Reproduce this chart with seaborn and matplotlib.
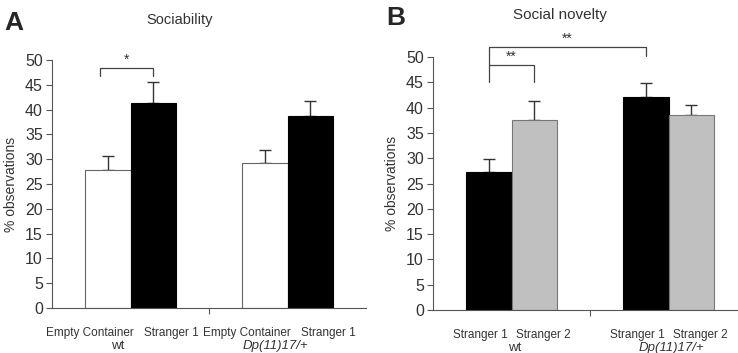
import seaborn as sns
import matplotlib.pyplot as plt
import matplotlib.transforms as mtransforms
import pandas as pd

# values (mean, upper error = SEM)
genotypes = ['wt', 'Dp(11)17/+']

soc_chambers = ['Empty Container', 'Stranger 1']
soc_mean = {'Empty Container': [27.8, 29.3], 'Stranger 1': [41.4, 38.8]}
soc_err = {'Empty Container': [2.9, 2.5], 'Stranger 1': [4.1, 3.0]}

nov_chambers = ['Stranger 1', 'Stranger 2']
nov_mean = {'Stranger 1': [27.3, 42.2], 'Stranger 2': [37.6, 38.5]}
nov_err = {'Stranger 1': [2.5, 2.6], 'Stranger 2': [3.8, 2.0]}

sns.set_style('white')
plt.rcParams['font.family'] = ['Liberation Sans', 'DejaVu Sans']
TXT = '#333333'


def make_df(chambers, means):
    rows = []
    for ch in chambers:
        for g, v in zip(genotypes, means[ch]):
            rows.append({'genotype': g, 'chamber': ch, 'value': v})
    return pd.DataFrame(rows)


def panel(ax, chambers, means, errs, colors, edges, label_shift, group_shift):
    df = make_df(chambers, means)
    sns.barplot(data=df, x='genotype', y='value', hue='chamber', order=genotypes,
                hue_order=chambers, palette=colors, width=0.58, errorbar=None,
                legend=False, ax=ax, linewidth=0.8, saturation=1)
    centers = {}
    for cont, ch, ec in zip(ax.containers, chambers, edges):
        xs, hs = [], []
        for bar in cont:
            bar.set_edgecolor(ec)
            xs.append(bar.get_x() + bar.get_width() / 2)
            hs.append(bar.get_height())
        centers[ch] = xs
        ax.errorbar(xs, hs, yerr=[[0] * len(xs), errs[ch]], fmt='none',
                    ecolor='#333333', elinewidth=1, capsize=4, capthick=1, zorder=0)
    ax.set_xlim(-0.5, 1.5)
    ax.set_ylim(0, 50)
    ax.set_yticks(range(0, 51, 5))
    ax.set_xticks([0.5])
    ax.set_xticklabels([''])
    ax.tick_params(axis='both', direction='out', length=4.5, width=0.8, colors='#555555',
                   labelcolor=TXT, labelsize=11.5, left=True, bottom=True, pad=2)
    ax.set_xlabel('')
    ax.set_ylabel('% observations', fontsize=10, color=TXT, labelpad=5)
    sns.despine(ax=ax)
    for s in ['left', 'bottom']:
        ax.spines[s].set_color('#555555')
        ax.spines[s].set_linewidth(0.8)
    trans = mtransforms.blended_transform_factory(ax.transData, ax.transAxes)
    for i, g in enumerate(genotypes):
        ax.annotate(chambers[0], (i - label_shift, 0), xycoords=trans, xytext=(0, -18),
                    textcoords='offset points', ha='center', va='center', fontsize=8.5,
                    color=TXT)
        ax.annotate(chambers[1], (i + label_shift, 0), xycoords=trans, xytext=(0, -18),
                    textcoords='offset points', ha='center', va='center', fontsize=8.5,
                    color=TXT)
        ax.annotate(g, (i + group_shift, 0), xycoords=trans, xytext=(0, -27.5),
                    textcoords='offset points', ha='center', va='center', fontsize=9.5,
                    color=TXT, style='normal' if g == 'wt' else 'italic')
    return centers


def bracket(ax, x0, x1, top, y0, y1, stars):
    ax.plot([x0, x0, x1, x1], [y0, top, top, y1], color='#444444', lw=0.9,
            clip_on=False)
    ax.text((x0 + x1) / 2, top + 0.2, stars, ha='center', va='bottom', fontsize=10,
            color=TXT)


fig = plt.figure(figsize=(7.38, 3.53), dpi=100)
axA = fig.add_axes([52 / 738, 0.1275, 314 / 738, 0.7025])
axB = fig.add_axes([433 / 738, 0.122, 314 / 738, 0.716])

cA = panel(axA, soc_chambers, soc_mean, soc_err, ['white', 'black'],
           ['#666666', 'black'], 0.26, -0.08)
cB = panel(axB, nov_chambers, nov_mean, nov_err, ['black', '#c0c0c0'],
           ['black', '#777777'], 0.2, 0.02)

bracket(axA, cA['Empty Container'][0] - 0.05, cA['Stranger 1'][0], 48.4, 46.8, 46.8, '*')
bracket(axB, cB['Stranger 1'][0], cB['Stranger 2'][0], 48.4, 45.0, 45.0, '**')
bracket(axB, cB['Stranger 1'][0], cB['Stranger 1'][1], 52.1, 48.4, 50.3, '**')

fig.text(180 / 738, 0.943, 'Sociability', ha='center', va='center', fontsize=10.5, color=TXT)
fig.text(560 / 738, 0.957, 'Social novelty', ha='center', va='center', fontsize=11, color=TXT)
fig.text(0.006, 0.935, 'A', ha='left', va='center', fontsize=19, fontweight='bold')
fig.text(0.523, 0.948, 'B', ha='left', va='center', fontsize=19, fontweight='bold')

fig.savefig('out.png', dpi=100)
